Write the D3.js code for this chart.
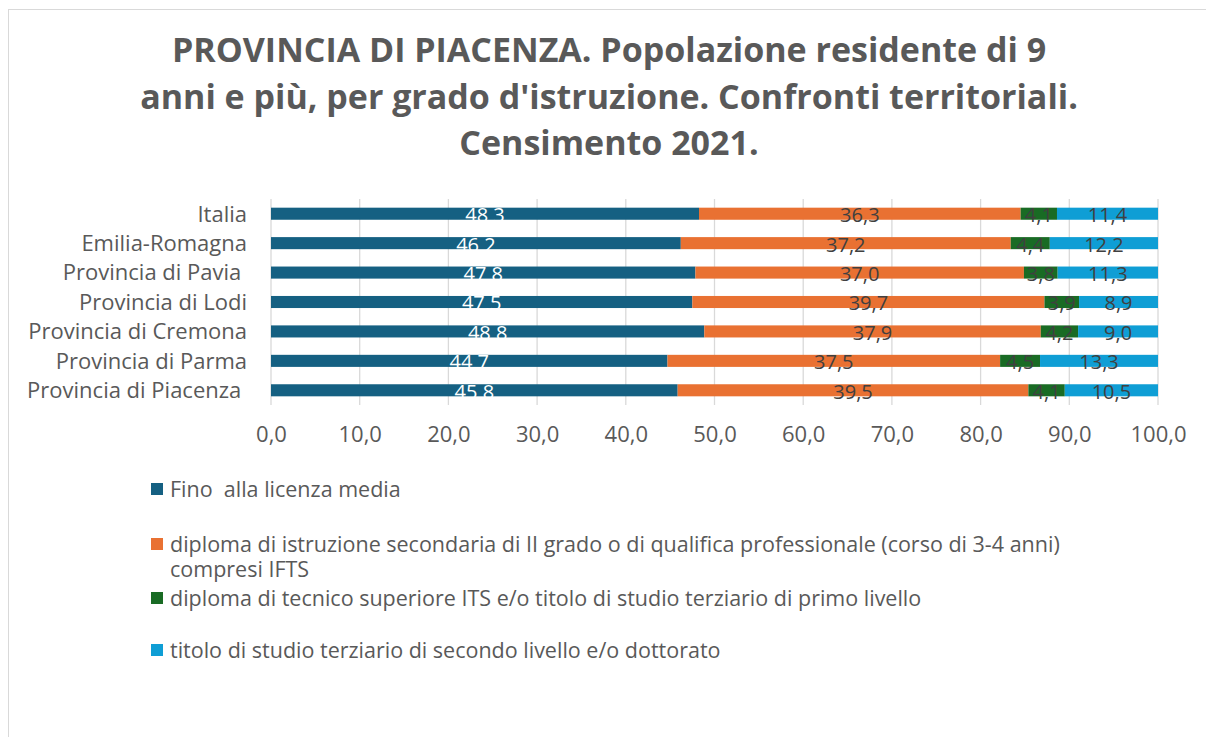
<!DOCTYPE html>
<html>
<head>
<meta charset="utf-8">
<script src="https://cdn.jsdelivr.net/npm/d3@7"></script>
<style>
  body { margin: 0; background: #fff; }
  svg { display: block; font-family: "Open Sans", sans-serif; }
</style>
</head>
<body>
<svg id="chart" width="1206" height="737"></svg>
<script>
// categories (top to bottom) and series values
var categories = ["Italia", "Emilia-Romagna", "Provincia di Pavia ", "Provincia di Lodi",
                  "Provincia di Cremona", "Provincia di Parma", "Provincia di Piacenza "];
var finoLicenzaMedia = [48.3, 46.2, 47.8, 47.5, 48.8, 44.7, 45.8];
var diplomaSecondaria = [36.3, 37.2, 37.0, 39.7, 37.9, 37.5, 39.5];
var tecnicoSuperiore = [4.1, 4.4, 3.8, 3.9, 4.2, 4.5, 4.1];
var terziarioSecondo = [11.4, 12.2, 11.3, 8.9, 9.0, 13.3, 10.5];
var tickValues = [0, 10, 20, 30, 40, 50, 60, 70, 80, 90, 100];

var seriesNames = [
  ["Fino  alla licenza media"],
  ["diploma di istruzione secondaria di II grado o di qualifica professionale (corso di 3-4 anni)", "compresi IFTS"],
  ["diploma di tecnico superiore ITS e/o titolo di studio terziario di primo livello"],
  ["titolo di studio terziario di secondo livello e/o dottorato"]
];
var keys = ["s0", "s1", "s2", "s3"];
var colors = ["#156082", "#E97132", "#196B24", "#0F9ED5"];
var labelColors = ["#ffffff", "#404040", "#404040", "#404040"];

// table for d3.stack
var rows = categories.map(function(c, i) {
  return { cat: c, s0: finoLicenzaMedia[i], s1: diplomaSecondaria[i],
           s2: tecnicoSuperiore[i], s3: terziarioSecondo[i] };
});

var svg = d3.select("#chart");

// outer frame
svg.append("rect")
    .attr("x", 8.5).attr("y", 9.5)
    .attr("width", 1205).attr("height", 740)
    .attr("fill", "none")
    .attr("stroke", "#d9d9d9");

// title
var titleLines = ["PROVINCIA DI PIACENZA. Popolazione residente di 9",
                  "anni e più, per grado d'istruzione. Confronti territoriali.",
                  "Censimento 2021."];
svg.append("text")
    .attr("text-anchor", "middle")
    .attr("font-weight", "bold")
    .attr("font-size", 34)
    .attr("fill", "#595959")
    .selectAll("tspan")
    .data(titleLines)
  .enter().append("tspan")
    .attr("x", 609)
    .attr("y", function(d, i) { return 62 + i * 46.5; })
    .text(function(d) { return d; });

var x = d3.scaleLinear().domain([0, 1]).range([271, 1158]);
var y = d3.scaleBand().domain(categories).range([199, 405])
    .paddingInner(0.59).paddingOuter(0.295);

var stack = d3.stack().keys(keys).offset(d3.stackOffsetExpand);
var series = stack(rows);

// gridlines
svg.append("g")
    .selectAll("line")
    .data(tickValues)
  .enter().append("line")
    .attr("x1", function(d) { return x(d / 100); })
    .attr("x2", function(d) { return x(d / 100); })
    .attr("y1", 199).attr("y2", 405)
    .attr("stroke", "#d9d9d9")
    .attr("stroke-width", 1.3);

// x axis tick labels
var xAxis = d3.axisBottom(x)
    .tickValues(tickValues.map(function(d) { return d / 100; }))
    .tickSize(0)
    .tickPadding(0)
    .tickFormat(function(d) { return (d * 100).toFixed(1).replace(".", ","); });

var gx = svg.append("g")
    .attr("transform", "translate(0,426)")
    .call(xAxis);
gx.select(".domain").remove();
gx.selectAll("text")
    .attr("font-family", "Open Sans, sans-serif")
    .attr("font-size", 22)
    .attr("fill", "#595959");

// y axis category labels
var yAxis = d3.axisLeft(y).tickSize(0).tickPadding(0);
var gy = svg.append("g")
    .attr("transform", "translate(247,0)")
    .call(yAxis);
gy.select(".domain").remove();
gy.selectAll("text")
    .attr("font-family", "Open Sans, sans-serif")
    .attr("font-size", 22)
    .attr("fill", "#595959")
    .attr("dy", "0.36em")
    .style("white-space", "pre");

// bars
var layers = svg.append("g")
    .selectAll("g")
    .data(series)
  .enter().append("g")
    .attr("fill", function(d, i) { return colors[i]; });

layers.selectAll("rect")
    .data(function(d) { return d; })
  .enter().append("rect")
    .attr("x", function(d) { return x(d[0]); })
    .attr("y", function(d) { return y(d.data.cat); })
    .attr("width", function(d) { return x(d[1]) - x(d[0]); })
    .attr("height", y.bandwidth());

// bar value labels
layers.each(function(s, i) {
  d3.select(this).selectAll("text")
      .data(s)
    .enter().append("text")
      .attr("x", function(d) { return (x(d[0]) + x(d[1])) / 2; })
      .attr("y", function(d) { return y(d.data.cat) + y.bandwidth() / 2; })
      .attr("dy", "0.42em")
      .attr("text-anchor", "middle")
      .attr("font-size", 20)
      .attr("fill", labelColors[i])
      .text(function(d) { return d.data[s.key].toFixed(1).replace(".", ","); });
});

// legend
var legendRows = [497, 552, 606, 658];
var legend = svg.append("g")
    .selectAll("g")
    .data(seriesNames)
  .enter().append("g")
    .attr("transform", function(d, i) { return "translate(151," + legendRows[i] + ")"; });

legend.append("rect")
    .attr("x", 0).attr("y", -14)
    .attr("width", 12).attr("height", 12)
    .attr("fill", function(d, i) { return colors[i]; });

legend.append("text")
    .attr("font-size", 21.5)
    .attr("fill", "#595959")
    .style("white-space", "pre")
    .selectAll("tspan")
    .data(function(d) { return d; })
  .enter().append("tspan")
    .attr("x", 19)
    .attr("y", function(d, i) { return i * 25; })
    .text(function(d) { return d; });
</script>
</body>
</html>
